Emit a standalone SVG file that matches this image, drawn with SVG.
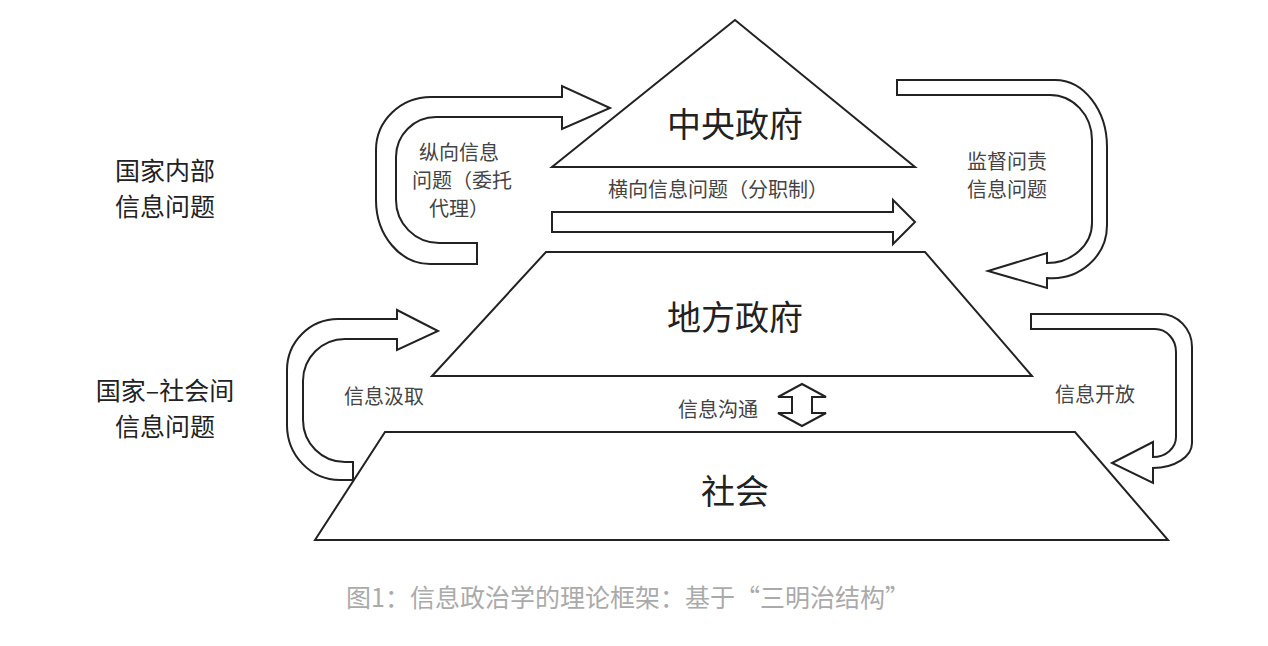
<svg xmlns="http://www.w3.org/2000/svg" width="1268" height="646" viewBox="0 0 1268 646">
<style>
.s{fill:#fff;stroke:#222;stroke-width:2;stroke-linejoin:miter}
.big{font-family:"Noto Sans CJK SC","Noto Sans",sans-serif;font-size:34px;fill:#222;text-anchor:middle}
.sm{font-family:"Noto Sans CJK SC",sans-serif;font-size:20px;fill:#444;text-anchor:middle}
.lab{font-family:"Noto Sans CJK SC",sans-serif;font-size:25px;fill:#222;text-anchor:middle}
</style>
<rect width="1268" height="646" fill="#fff"/>
<g id="central"><polygon class="s" points="735,20 915,167 552,167"/><text class="big" x="735" y="137">中央政府</text></g>
<g id="local"><polygon class="s" points="546,252 925,252 1032,376 432,376"/><text class="big" x="735" y="330">地方政府</text></g>
<g id="society"><polygon class="s" points="385,432 1075,432 1168,540 315,540"/><text class="big" x="735" y="504">社会</text></g>
<g id="connectors">
<path class="s" d="M477,264 L430,264 A54,64 0 0 1 376,200 L376,150 A55,53 0 0 1 431,97 L562,97 L562,86 L610,108 L562,129 L562,117 L436,117 A40,40 0 0 0 396,157 L396,200 A43,43 0 0 0 439,243 L477,243 Z"/>
<path class="s" d="M552,212 L893,212 L893,200 L915,222 L893,244 L893,232 L552,232 Z"/>
<path class="s" d="M897,80 L1055,80 A52,67 0 0 1 1107,147 L1107,225 A55,53 0 0 1 1047,278 L1047,288 L988,271 L1047,253 L1047,263 A45,40 0 0 0 1092,223 L1092,140 A42,45 0 0 0 1050,95 L897,95 Z"/>
<path class="s" d="M1031,314 L1160,314 A32,33 0 0 1 1192,347 L1192,443 A39,25 0 0 1 1153,468 L1153,483 L1112,463 L1153,442 L1153,457 A23,20 0 0 0 1176,437 L1176,352 A21,23 0 0 0 1155,329 L1031,329 Z"/>
<path class="s" d="M353,480 L340,480 A53,55 0 0 1 287,425 L287,370 A51,51 0 0 1 338,319 L397,319 L397,310 L438,331 L397,350 L397,339 L345,339 A42,42 0 0 0 303,381 L303,420 A42,42 0 0 0 345,462 L353,462 Z"/>
<path class="s" d="M802,384 L826,397 L812,397 L812,413 L826,413 L802,426 L778,413 L792,413 L792,397 L778,397 Z"/>
</g>
<g id="labels">
<text class="sm" x="459" y="160">纵向信息</text>
<text class="sm" x="462" y="188">问题（委托</text>
<text class="sm" x="459" y="216">代理）</text>
<text class="sm" x="718" y="197">横向信息问题（分职制）</text>
<text class="sm" x="1007" y="169">监督问责</text>
<text class="sm" x="1007" y="197">信息问题</text>
<text class="sm" x="384" y="404">信息汲取</text>
<text class="sm" x="718" y="417">信息沟通</text>
<text class="sm" x="1095" y="402">信息开放</text>
<text class="lab" x="165" y="180">国家内部</text>
<text class="lab" x="165" y="216">信息问题</text>
<text class="lab" x="165" y="400">国家–社会间</text>
<text class="lab" x="165" y="436">信息问题</text>
<text x="628" y="607" style="font-family:'Noto Sans CJK SC',sans-serif;font-size:25px;fill:#aaa;text-anchor:middle">图1：信息政治学的理论框架：基于“三明治结构”</text>
</g>
</svg>
